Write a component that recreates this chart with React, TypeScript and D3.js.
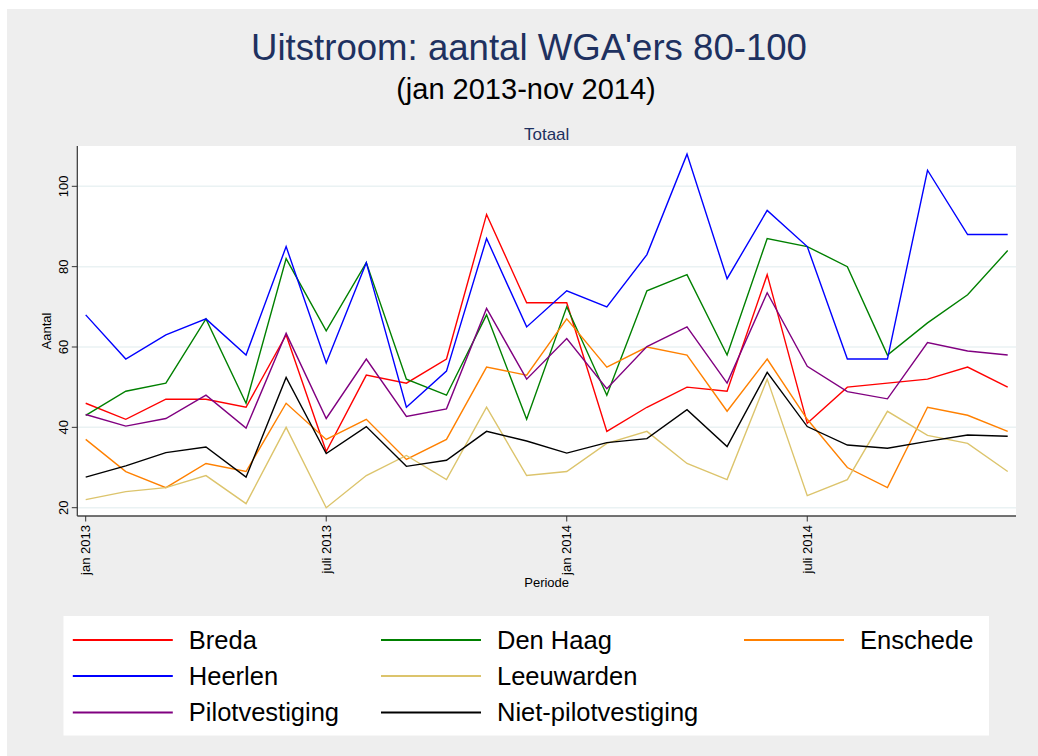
import React from "react";
import * as d3 from "d3";

const months: string[] = [
  "2013-01","2013-02","2013-03","2013-04","2013-05","2013-06","2013-07","2013-08","2013-09","2013-10","2013-11","2013-12",
  "2014-01","2014-02","2014-03","2014-04","2014-05","2014-06","2014-07","2014-08","2014-09","2014-10","2014-11","2014-12",
];

const breda = [46,42,47,47,45,63,34,53,51,57,93,71,71,39,45,50,49,78,41,50,51,52,55,50];
const denHaag = [43,49,51,67,46,82,64,81,52,48,68,42,70,48,74,78,58,87,85,80,58,66,73,84];
const enschede = [37,29,25,31,29,46,37,42,32,37,55,53,67,55,60,58,44,57,42,30,25,45,43,39];
const heerlen = [68,57,63,67,58,85,56,81,45,54,87,65,74,70,83,108,77,94,85,57,57,104,88,88];
const leeuwarden = [22,24,25,28,21,40,20,28,33,27,45,28,29,36,39,31,27,52,23,27,44,38,36,29];
const pilot = [43.2,40.3,42.2,48,39.8,63.4,42.2,57,42.7,44.6,69.6,52,62.1,49.6,60.1,65,51,73.5,55.2,48.9,47.1,61.1,59,58];
const nietPilot = [27.6,30.4,33.7,35.1,27.6,52.4,33.5,40.2,30.3,31.8,39,36.6,33.6,36.2,37.2,44.4,35.2,53.7,40.2,35.6,34.8,36.5,38.1,37.8];

const seriesNames = ["Breda","Den Haag","Enschede","Heerlen","Leeuwarden","Pilotvestiging","Niet-pilotvestiging"];
const seriesColors = ["#ff0000","#008000","#ff8000","#0000ff","#dcc46c","#800080","#000000"];
const seriesValues = [breda, denHaag, enschede, heerlen, leeuwarden, pilot, nietPilot];

const yTicks = [20,40,60,80,100];
const xTickIdx = [0,6,12,18];
const xTickLabels = ["jan 2013","juli 2013","jan 2014","juli 2014"];

const W = 1038, H = 756;
const plotL = 77.3, plotR = 1016, plotT = 146, plotB = 516;

export default function App() {
  const x = d3.scaleLinear().domain([0, months.length - 1]).range([85.7, 1007.7]);
  const y = d3.scaleLinear().domain([20, 100]).range([507.7, 186.3]);
  const line = d3.line<number>().x((_, i) => x(i)).y((v) => y(v));
  const font = "Liberation Sans, Arial, Helvetica, sans-serif";
  const cx = (plotL + plotR) / 2;
  const cy = (plotT + plotB) / 2;

  // legend layout: 3 columns x 3 rows, filled as in the reference
  const legCols = [72.8, 381, 744];
  const legRows = [640, 676, 712.5];
  const legPos = [[0,0],[1,0],[2,0],[0,1],[1,1],[0,2],[1,2]];

  return (
    <svg width={W} height={H} style={{ position: "absolute", left: 0, top: 0 }} fontFamily={font}>
      <rect x={0} y={0} width={W} height={H} fill="#ffffff" />
      <rect x={7} y={9} width={W - 7} height={H - 9} fill="#eeeeee" />
      <text x={529} y={60} textAnchor="middle" fontSize={36.6} fill="#1e3160">Uitstroom: aantal WGA'ers 80-100</text>
      <text x={526} y={99} textAnchor="middle" fontSize={29} fill="#000">(jan 2013-nov 2014)</text>
      <text x={cx} y={140} textAnchor="middle" fontSize={17} fill="#1e3160">Totaal</text>

      <rect x={plotL} y={plotT} width={plotR - plotL} height={plotB - plotT} fill="#ffffff" />
      {yTicks.map((t) => (
        <line key={"g" + t} x1={plotL} x2={plotR} y1={y(t)} y2={y(t)} stroke="#eaf2f3" strokeWidth={1.5} />
      ))}

      {seriesValues.map((vals, si) => (
        <path key={seriesNames[si]} d={line(vals) || ""} fill="none" stroke={seriesColors[si]} strokeWidth={1.4} strokeLinejoin="miter" />
      ))}

      <line x1={plotL} x2={plotL} y1={plotT} y2={plotB} stroke="#333" strokeWidth={1.2} />
      <line x1={plotL} x2={plotR} y1={plotB} y2={plotB} stroke="#444" strokeWidth={1.5} />
      {yTicks.map((t) => (
        <g key={"yt" + t}>
          <line x1={plotL - 5.5} x2={plotL} y1={y(t)} y2={y(t)} stroke="#333" strokeWidth={1} />
          <text transform={`translate(${plotL - 9},${y(t)}) rotate(-90)`} textAnchor="middle" fontSize={13} fill="#000">{t}</text>
        </g>
      ))}
      <text transform={`translate(50.5,${cy}) rotate(-90)`} textAnchor="middle" fontSize={13} fill="#000">Aantal</text>

      {xTickIdx.map((idx, k) => (
        <g key={"xt" + idx}>
          <line x1={x(idx)} x2={x(idx)} y1={plotB} y2={plotB + 5.5} stroke="#333" strokeWidth={1} />
          <text transform={`translate(${x(idx) + 4.5},${plotB + 9}) rotate(-90)`} textAnchor="end" fontSize={13} fill="#000">{xTickLabels[k]}</text>
        </g>
      ))}
      <text x={cx} y={587} textAnchor="middle" fontSize={13} fill="#000">Periode</text>

      <rect x={63.5} y={616} width={989 - 63.5} height={735.5 - 616} fill="#ffffff" />
      {seriesNames.map((name, i) => {
        const lx = legCols[legPos[i][0]];
        const ly = legRows[legPos[i][1]];
        return (
          <g key={"leg" + name}>
            <line x1={lx} x2={lx + 100} y1={ly} y2={ly} stroke={seriesColors[i]} strokeWidth={2} />
            <text x={lx + 116} y={ly + 8.5} fontSize={25.5} fill="#000">{name}</text>
          </g>
        );
      })}
    </svg>
  );
}
